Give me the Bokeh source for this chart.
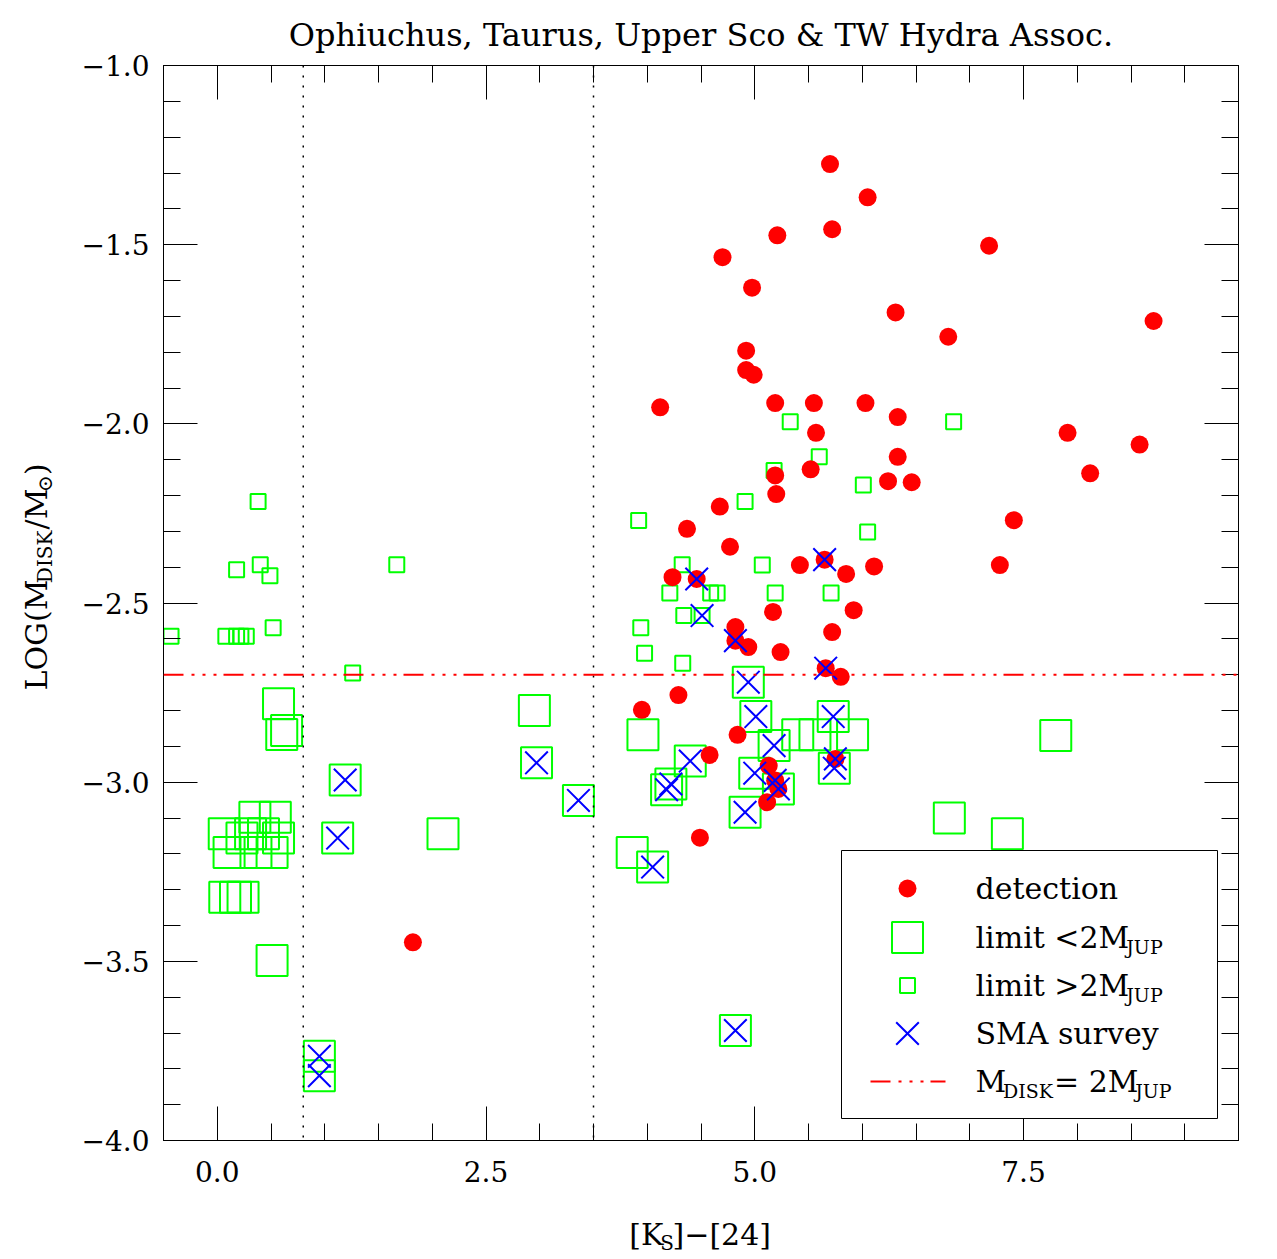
import math
from bokeh.plotting import figure
from bokeh.layouts import row, column
from bokeh.models import (FixedTicker, LinearAxis, CustomJSTickFormatter, Span, Label, Range1d)
from bokeh.embed import file_html
from bokeh.resources import INLINE

# ---------------- data ----------------
det_x = [5.70, 6.05, 5.72, 5.21, 4.70, 4.975, 6.31, 4.92, 4.92, 4.99, 4.12, 5.19, 5.55, 6.03, 6.33,
         5.57, 6.33, 6.24, 6.46, 5.52, 5.19, 5.20, 4.675, 4.37,
         7.18, 8.71, 6.80, 7.91, 8.58, 8.12, 7.41, 6.11, 7.28, 5.85, 5.92,
         4.77, 5.42, 5.65, 4.235, 4.46, 5.17, 4.82, 4.82, 4.94, 5.24, 5.72, 5.66, 5.80, 4.29, 3.95,
         4.84, 4.58, 5.75,
         5.13, 5.19, 5.22, 5.115, 4.49, 1.82]
det_y = [-1.275, -1.368, -1.457, -1.474, -1.535, -1.620, -1.689, -1.796, -1.850, -1.863, -1.954, -1.942,
         -1.942, -1.942, -1.981, -2.025, -2.092, -2.160, -2.163, -2.127, -2.144, -2.196, -2.231, -2.293,
         -1.503, -1.713, -1.757, -2.025, -2.058, -2.138, -2.269, -2.398, -2.394, -2.419, -2.520,
         -2.343, -2.394, -2.379, -2.428, -2.433, -2.525, -2.567, -2.605, -2.623, -2.637, -2.581, -2.682,
         -2.706, -2.757, -2.798, -2.868, -2.924, -2.935,
         -2.954, -2.995, -3.019, -3.056, -3.155, -3.447]

small_x = [5.33, 5.60, 5.18, 4.91, 6.01, 6.05, 3.92, 6.85, 4.325, 5.07, 4.21, 4.59, 4.65, 5.19, 5.71,
           4.34, 4.51, 3.94, 3.975, 4.33,
           0.38, 0.18, 0.40, 0.49, 1.67, -0.43, 0.08, 0.18, 0.22, 0.27, 0.52, 1.26]
small_y = [-1.994, -2.092, -2.130, -2.217, -2.171, -2.302, -2.270, -1.994, -2.393, -2.394, -2.472, -2.472,
           -2.472, -2.472, -2.472, -2.535, -2.535, -2.569, -2.640, -2.668,
           -2.217, -2.407, -2.393, -2.424, -2.393, -2.593, -2.593, -2.593, -2.593, -2.593, -2.569, -2.695]

big_x = [4.94, 5.01, 5.73, 5.18, 3.96, 5.40, 5.56, 5.91, 4.40, 4.22, 4.18, 5.00, 5.22, 4.91, 5.74,
         3.86, 4.05, 4.82, 2.95, 2.97, 3.36, 2.10, 7.80, 6.81, 7.35,
         0.57, 0.645, 0.60, 1.19, 1.12, 0.35, 0.54, 0.065, 0.31, 0.43, 0.23, 0.57, 0.11, 0.36, 0.51,
         0.07, 0.17, 0.24, 0.51, 0.95, 0.95]
big_y = [-2.721, -2.817, -2.817, -2.898, -2.868, -2.868, -2.868, -2.868, -2.941, -3.005, -3.021, -2.975,
         -3.019, -3.084, -2.961, -3.196, -3.237, -3.693, -2.800, -2.946, -3.051, -3.144, -2.870, -3.100,
         -3.144,
         -2.781, -2.856, -2.867, -2.994, -3.156, -3.098, -3.098, -3.144, -3.144, -3.144, -3.156, -3.156,
         -3.196, -3.196, -3.196, -3.321, -3.321, -3.321, -3.498, -3.765, -3.819]

sma_x = [4.46, 4.51, 4.82, 5.65, 5.66, 4.94, 5.01, 5.73, 5.18, 4.40, 4.18, 4.22, 5.00, 5.22, 5.19,
         5.75, 5.74, 4.91, 4.05, 4.82, 2.97, 3.36, 1.19, 1.12, 0.95, 0.95]
sma_y = [-2.433, -2.535, -2.605, -2.379, -2.682, -2.721, -2.817, -2.817, -2.898, -2.941, -3.021, -3.005,
         -2.975, -3.019, -2.995, -2.935, -2.961, -3.084, -3.237, -3.693, -2.946, -3.051, -2.994, -3.156,
         -3.765, -3.819]

class_bounds = [0.8, 3.5]
mdisk_limit = -2.70

x_major = [0.0, 2.5, 5.0, 7.5]
x_minor = [-0.5 + 0.5 * i for i in range(21)]
y_major = [-4.0, -3.5, -3.0, -2.5, -2.0, -1.5, -1.0]
y_minor = [round(-4.0 + 0.1 * i, 1) for i in range(31)]

legend_labels = ["detection", "limit <2M", "limit >2M", "SMA survey", "M"]

TITLE = "Ophiuchus, Taurus, Upper Sco & TW Hydra Assoc."

# ---------------- layout constants (page pixels) ----------------
XMIN, XMAX, YMIN, YMAX = -0.5, 9.5, -4.0, -1.0
FL, FR, FT, FB = 163, 1238, 65, 1140
YLAB_W = 70          # width of the y-label strip
MAIN_W, MAIN_H = 1200, 1200
XLAB_H = 57
XLAB_SHIFT = -36     # empirical horizontal correction for the x-label strip
FONT = "DejaVu Serif"
BASE_SHIFT = 0.28    # Label anchor sits this fraction of the font size above the drawn baseline


def px2x(px):
    return XMIN + (px - FL) / (FR - FL) * (XMAX - XMIN)


def py2y(py):
    return YMAX - (py - FT) / (FB - FT) * (YMAX - YMIN)


WID = {' ': 0.318, '(': 0.40, ')': 0.40, '/': 0.337, '[': 0.39, ']': 0.39, '<': 0.838, '>': 0.838,
       '=': 0.838, '\u2212': 0.838, '\u2299': 0.838, 'D': 0.836, 'G': 0.775, 'I': 0.402, 'J': 0.42,
       'K': 0.759, 'L': 0.70, 'M': 0.915, 'O': 0.788, 'P': 0.68, 'S': 0.689, 'U': 0.809, 'A': 0.72,
       'l': 0.32, 'i': 0.32, 'm': 0.954, 't': 0.404}


def tw(s, size):
    w = 0.0
    for c in s:
        w += 0.636 if c.isdigit() else WID.get(c, 0.6)
    return w * size


# ---------------- main figure ----------------
p = figure(width=MAIN_W, height=MAIN_H, x_range=Range1d(XMIN, XMAX), y_range=Range1d(YMIN, YMAX),
           output_backend="svg", toolbar_location=None,
           min_border_left=FL - YLAB_W, min_border_right=YLAB_W + MAIN_W - FR,
           min_border_top=FT, min_border_bottom=MAIN_H - FB,
           background_fill_color="white", border_fill_color="white")
p.grid.visible = False
p.outline_line_color = "black"
p.outline_line_width = 1

p.title.text = TITLE
p.title.text_font = FONT
p.title.text_font_size = "32px"
p.title.text_font_style = "normal"
p.title.align = "center"
p.title.vertical_align = "bottom"
p.title.standoff = 24
p.title.text_color = "black"

fmt = CustomJSTickFormatter(code="return tick.toFixed(1).replace('-', '\\u2212');")
empty = CustomJSTickFormatter(code="return '';")


def style_axis(ax, labels=True):
    ax.major_tick_in = 34
    ax.major_tick_out = 0
    ax.minor_tick_in = 17
    ax.minor_tick_out = 0
    ax.major_tick_line_color = "black"
    ax.minor_tick_line_color = "black"
    ax.axis_line_color = "black"
    ax.major_label_text_font = FONT
    ax.major_label_text_color = "black"
    if labels:
        ax.formatter = fmt
        ax.major_label_text_font_size = "28px"
    else:
        ax.formatter = empty
        ax.major_label_text_font_size = "0px"
        ax.major_label_standoff = 0


p.xaxis.ticker = FixedTicker(ticks=x_major, minor_ticks=x_minor)
p.yaxis.ticker = FixedTicker(ticks=y_major, minor_ticks=y_minor)
style_axis(p.xaxis[0])
style_axis(p.yaxis[0])
p.xaxis.major_label_standoff = 20
p.yaxis.major_label_standoff = 14

top = LinearAxis(ticker=FixedTicker(ticks=x_major, minor_ticks=x_minor))
style_axis(top, labels=False)
p.add_layout(top, "above")
right = LinearAxis(ticker=FixedTicker(ticks=y_major, minor_ticks=y_minor))
style_axis(right, labels=False)
p.add_layout(right, "right")

# reference lines
for xb in class_bounds:
    p.add_layout(Span(location=xb, dimension="height", line_color="black", line_dash="2 8",
                      line_width=1.5))
p.add_layout(Span(location=mdisk_limit, dimension="width", line_color="#ff0000",
                  line_dash="20 8 3 8 3 8 3 7", line_width=2))

# data marks
p.scatter(big_x, big_y, marker="square", size=31, fill_color=None, line_color="#00ff00", line_width=2)
p.scatter(small_x, small_y, marker="square", size=15, fill_color=None, line_color="#00ff00", line_width=2)
p.scatter(det_x, det_y, marker="circle", size=18, fill_color="#ff0000", line_color=None)
p.scatter(sma_x, sma_y, marker="x", size=32, line_color="#0000ff", line_width=2)


def make_lab(fig, text, x, y, size, angle=0.0):
    fig.add_layout(Label(x=x, y=y, text=text, text_font=FONT, text_font_size=f"{size}px",
                         text_color="black", angle=angle, text_align="left",
                         text_baseline="alphabetic", level="overlay"))


# legend (inside the frame, main figure, data units converted from pixels)
p.quad(left=[px2x(841)], right=[px2x(1217)], top=[py2y(850)], bottom=[py2y(1118)],
       fill_color="white", line_color="black", line_width=1, level="overlay")
rows = [888, 937, 985, 1033, 1081]
mx = px2x(907)
p.scatter([mx], [py2y(rows[0])], marker="circle", size=18, fill_color="#ff0000", line_color=None,
          level="overlay")
p.scatter([mx], [py2y(rows[1])], marker="square", size=31, fill_color=None, line_color="#00ff00",
          line_width=2, level="overlay")
p.scatter([mx], [py2y(rows[2])], marker="square", size=15, fill_color=None, line_color="#00ff00",
          line_width=2, level="overlay")
p.scatter([mx], [py2y(rows[3])], marker="x", size=32, line_color="#0000ff", line_width=2,
          level="overlay")
p.line([px2x(870), px2x(945)], [py2y(rows[4])] * 2, line_color="#ff0000", line_width=2,
       line_dash="20 8 3 8 3 8 3 7", level="overlay")

TX = 975


def legend_text(parts, px, base):
    pos = px
    for text, size, drop in parts:
        anchor = base + drop - BASE_SHIFT * size
        make_lab(p, text, px2x(pos), py2y(anchor), size)
        pos += tw(text, size)


legend_text([(legend_labels[0], 30, 0)], TX, rows[0] + 8)
legend_text([(legend_labels[1], 30, 0), ("JUP", 19, 7)], TX, rows[1] + 8)
legend_text([(legend_labels[2], 30, 0), ("JUP", 19, 7)], TX, rows[2] + 8)
legend_text([(legend_labels[3], 30, 0)], TX, rows[3] + 8)
legend_text([(legend_labels[4], 30, 0), ("DISK", 19, 7), ("= 2M", 30, 0), ("JUP", 19, 7)], TX,
            rows[4] + 8)


# ---------------- label strips ----------------
def strip(w, h):
    f = figure(width=w, height=h, x_range=Range1d(0, w), y_range=Range1d(0, h), title=None,
               output_backend="svg", toolbar_location=None,
               min_border_left=0, min_border_right=0, min_border_top=0, min_border_bottom=0,
               x_axis_location=None, y_axis_location=None,
               background_fill_color="white", border_fill_color="white")
    f.outline_line_color = None
    f.grid.visible = False
    return f


# y label: strip x 0..70, y 0..1200 ; pixel (px, py) -> data (px, MAIN_H - py)
ylab = strip(YLAB_W, MAIN_H)
pos = 690
for text, size, drop in [("LOG(M", 30, 0), ("DISK", 20, 6), ("/M", 30, 0), ("\u2299", 20, 6),
                         (")", 30, 0)]:
    bx = 44 + drop - BASE_SHIFT * size
    make_lab(ylab, text, bx, MAIN_H - pos, size, angle=math.pi / 2)
    pos -= tw(text, size)

# x label: strip x 70..1270, y 1200..1257 ; pixel (px, py) -> data (px - 70, 1257 - py)
xlab = strip(MAIN_W, XLAB_H)
pos = 626
for text, size, drop in [("[K", 30, 0), ("S", 20, 6), ("]\u2212[24]", 30, 0)]:
    by = 1242 + drop - BASE_SHIFT * size
    make_lab(xlab, text, pos - YLAB_W + XLAB_SHIFT, (MAIN_H + XLAB_H) - by, size)
    pos += tw(text, size)

layout = row(ylab, column(p, xlab, spacing=0), spacing=0)

open("out.html", "w").write(file_html(layout, INLINE))
